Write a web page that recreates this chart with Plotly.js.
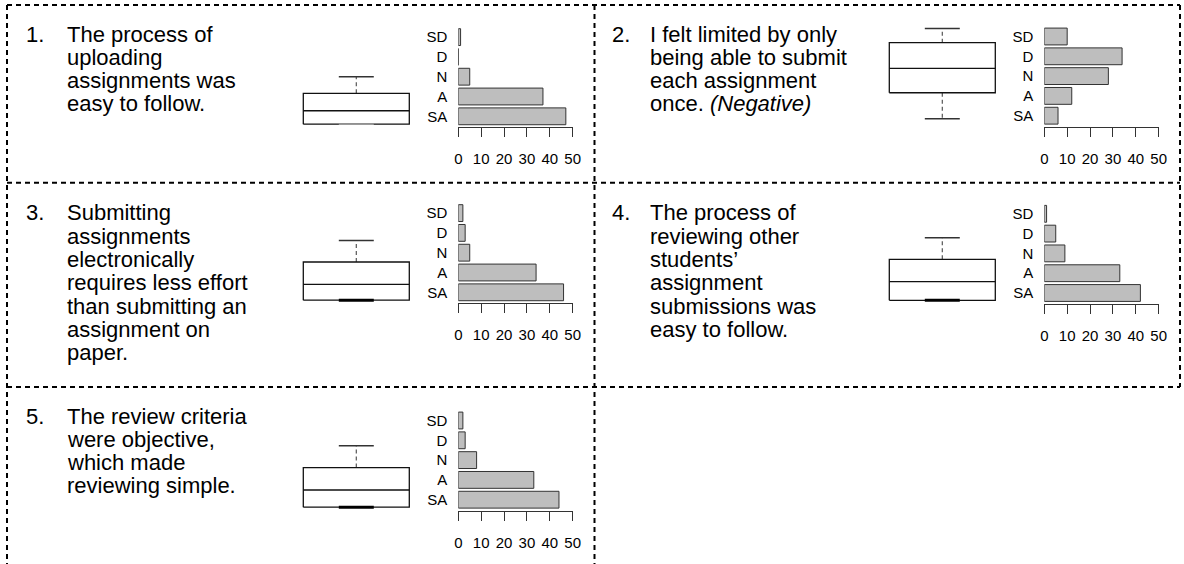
<!DOCTYPE html>
<html>
<head>
<meta charset="utf-8">
<script src="https://cdn.plot.ly/plotly-3.0.1.min.js"></script>
<style>html,body{margin:0;padding:0;background:#fff;}#chart{width:1184px;height:564px;}</style>
</head>
<body>
<div id="chart"></div>
<script>
// ---------- DATA ----------
const categories = ['SD', 'D', 'N', 'A', 'SA'];
const q1Counts = [1, 0, 5, 37, 47];
const q2Counts = [10, 34, 28, 12, 6];
const q3Counts = [2, 3, 5, 34, 46];
const q4Counts = [1, 5, 9, 33, 42];
const q5Counts = [2, 3, 8, 33, 44];
const countTicks = [0, 10, 20, 30, 40, 50];

// box-plot statistics on a score scale (1 = SA row ... 5 = SD row)
const boxLower  = [0.60, 0.85, 0.60, 0.63, 0.62];
const boxQ1     = [0.60, 2.16, 0.60, 0.63, 0.62];
const boxMedian = [1.28, 3.39, 1.40, 1.57, 1.49];
const boxQ3     = [2.16, 4.69, 2.53, 2.70, 2.62];
const boxUpper  = [3.00, 5.41, 3.61, 3.79, 3.73];

const questionNumbers = ['1.', '2.', '3.', '4.', '5.'];
const question1 = ['The process of', 'uploading', 'assignments was', 'easy to follow.'];
const question2 = ['I felt limited by only', 'being able to submit', 'each assignment', 'once. <i>(Negative)</i>'];
const question3 = ['Submitting', 'assignments', 'electronically', 'requires less effort', 'than submitting an', 'assignment on', 'paper.'];
const question4 = ['The process of', 'reviewing other', 'students\u2019', 'assignment', 'submissions was', 'easy to follow.'];
const question5 = ['The review criteria', 'were objective,', 'which made', 'reviewing simple.'];

const allCounts = [q1Counts, q2Counts, q3Counts, q4Counts, q5Counts];
const allQuestions = [question1, question2, question3, question4, question5];

// ---------- LAYOUT GEOMETRY (pixels) ----------
const W = 1184, H = 564;
const fx = p => p / W;
const fy = p => 1 - p / H;
const geom = {
  barX0: [458.3, 1044.3, 458.3, 1044.3, 458.3],
  barW: 114.4,
  axisY: [127.3, 126.7, 303.3, 304.0, 510.7],
  rowStep: 19.8,
  below: 11,
  above: 15,
  boxCX: [356.3, 942.3, 356.3, 942.3, 356.3],
  boxHalf: 53,
  numX: [25, 611, 25, 611, 25],
  textX: [66, 649, 66, 649, 66],
  line1Y: [34, 34, 213, 213, 416],
  lineStep: 23.3
};
const NFONT = '"Liberation Sans Narrow", "Liberation Sans", Arial, sans-serif';
const TFONT = '"Liberation Sans", Arial, sans-serif';

const traces = [];
const layout = {
  width: W, height: H,
  margin: {l: 0, r: 0, t: 0, b: 0},
  paper_bgcolor: '#fff', plot_bgcolor: 'rgba(0,0,0,0)',
  showlegend: false,
  annotations: [],
  shapes: []
};

const span = 4 * geom.rowStep + geom.below + geom.above;
const scoreRange = [1 - geom.below / geom.rowStep, 5 + geom.above / geom.rowStep];

for (let i = 0; i < 5; i++) {
  const bx = 2 * i + 1, ox = 2 * i + 2;
  const yDom = [fy(geom.axisY[i]), fy(geom.axisY[i] - span)];

  // bar chart
  traces.push({
    type: 'bar', orientation: 'h',
    x: allCounts[i], y: categories,
    xaxis: 'x' + bx, yaxis: 'y' + bx,
    width: 0.85,
    marker: {color: '#bebebe', line: {color: '#333', width: 1}},
    hoverinfo: 'skip'
  });
  layout['xaxis' + bx] = {
    domain: [fx(geom.barX0[i]), fx(geom.barX0[i] + geom.barW)],
    anchor: 'y' + bx, range: [0, 50],
    tickmode: 'array', tickvals: countTicks, ticktext: countTicks.map(String),
    showline: true, linecolor: '#333', linewidth: 1,
    ticks: 'outside', ticklen: 9, tickwidth: 1, tickcolor: '#333',
    showgrid: false, zeroline: false,
    tickfont: {family: NFONT, size: 15, color: '#000'},
    ticklabelstandoff: 9, fixedrange: true
  };
  layout['yaxis' + bx] = {
    domain: yDom, anchor: 'x' + bx,
    type: 'category', categoryorder: 'array', categoryarray: categories,
    range: [4 + geom.below / geom.rowStep, -geom.above / geom.rowStep],
    showline: false, ticks: '', showgrid: false, zeroline: false,
    tickfont: {family: NFONT, size: 15, color: '#000'},
    ticklabelstandoff: 10, fixedrange: true
  };

  // box plot built from the statistics
  const bxa = 'x' + ox, bya = 'y' + ox;
  const common = {type: 'scatter', mode: 'lines', xaxis: bxa, yaxis: bya, hoverinfo: 'skip', cliponaxis: false};
  traces.push(Object.assign({}, common, {
    x: [0, 0, null, 0, 0],
    y: [boxQ3[i], boxUpper[i], null, boxQ1[i], boxLower[i]],
    line: {color: '#555', width: 1.2, dash: '4px,3px'}
  }));
  traces.push(Object.assign({}, common, {
    x: [-1, 1, 1, -1, -1],
    y: [boxQ1[i], boxQ1[i], boxQ3[i], boxQ3[i], boxQ1[i]],
    fill: 'toself', fillcolor: '#fff',
    line: {color: '#111', width: 1.3}
  }));
  traces.push(Object.assign({}, common, {
    x: [-1, 1], y: [boxMedian[i], boxMedian[i]],
    line: {color: '#111', width: 1.3}
  }));
  traces.push(Object.assign({}, common, {
    x: [-0.33, 0.33], y: [boxUpper[i], boxUpper[i]],
    line: {color: '#333', width: 1.5}
  }));
  const lowStyle = i === 0 ? {color: '#9a9a9a', width: 1.5} : (i === 1 ? {color: '#333', width: 1.5} : {color: '#000', width: 3});
  traces.push(Object.assign({}, common, {
    x: [-0.33, 0.33], y: [boxLower[i], boxLower[i]],
    line: lowStyle
  }));
  const bw = geom.boxHalf * 1.06;
  layout['xaxis' + ox] = {domain: [fx(geom.boxCX[i] - bw), fx(geom.boxCX[i] + bw)], range: [-1.06, 1.06], visible: false, anchor: bya, fixedrange: true};
  layout['yaxis' + ox] = {domain: yDom, range: scoreRange, visible: false, anchor: bxa, fixedrange: true};

  // question text
  layout.annotations.push({
    xref: 'paper', yref: 'paper', x: fx(geom.numX[i]), y: fy(geom.line1Y[i]),
    xanchor: 'left', yanchor: 'middle', showarrow: false, borderpad: 0,
    text: questionNumbers[i], font: {family: TFONT, size: 22, color: '#000'}
  });
  allQuestions[i].forEach((ln, k) => {
    layout.annotations.push({
      xref: 'paper', yref: 'paper', x: fx(geom.textX[i]), y: fy(geom.line1Y[i] + k * geom.lineStep),
      xanchor: 'left', yanchor: 'middle', showarrow: false, borderpad: 0,
      text: ln, font: {family: TFONT, size: 22, color: '#000'}
    });
  });
}

// dashed panel frame
const dash = {color: '#000', width: 2, dash: '5px,4px'};
const frame = [
  [7, 5, 1180, 5], [7, 5, 7, 564], [594.5, 5, 594.5, 564], [1180, 5, 1180, 387],
  [7, 182.7, 1180, 182.7], [7, 387, 1180, 387]
];
frame.forEach(s => layout.shapes.push({
  type: 'line', xref: 'paper', yref: 'paper',
  x0: fx(s[0]), y0: fy(s[1]), x1: fx(s[2]), y1: fy(s[3]), line: dash
}));

Plotly.newPlot('chart', traces, layout, {staticPlot: true, displayModeBar: false});
</script>
</body>
</html>
